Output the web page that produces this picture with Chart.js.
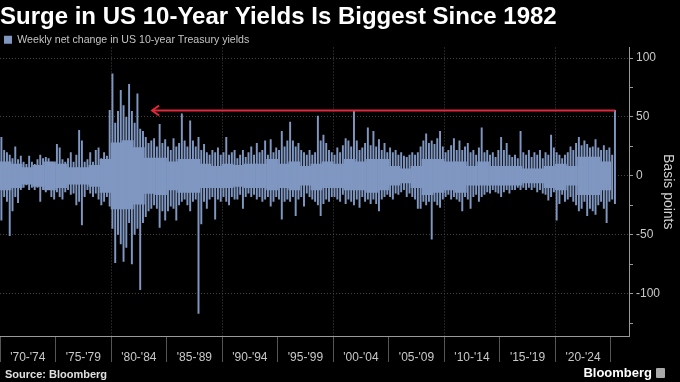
<!DOCTYPE html>
<html>
<head>
<meta charset="utf-8">
<script src="https://cdn.jsdelivr.net/npm/chart.js@4.4.1/dist/chart.umd.min.js"></script>
<style>
  html, body { margin: 0; padding: 0; background: #000; }
  #wrap { position: relative; width: 680px; height: 382px; background: #000; overflow: hidden; }
  #source { position: absolute; left: 5px; top: 368px; color: #e0e0e0; font: bold 11px 'Liberation Sans', sans-serif; }
  #brand { position: absolute; right: 15px; top: 365px; color: #fff; font: bold 13px 'Liberation Sans', sans-serif; }
  #brand span { display: inline-block; width: 9px; height: 10px; margin-left: 4px; background: #aaa; border-radius: 1px; vertical-align: -1px; }
</style>
</head>
<body>
<div id="wrap">
  <canvas id="chart" width="680" height="382"></canvas>
  <div id="source">Source: Bloomberg</div>
  <div id="brand">Bloomberg<span></span></div>
</div>
<script>
// quarterly bins from 1970 Q1 to 2025 Q2: largest rise and largest fall of any week in the quarter (bp)
const firstYear = 1970;
const weeklyHigh = [
  33, 22, 20, 18, 15, 25, 14, 17, 12, 10,
  17, 12, 10, 14, 18, 15, 16, 15, 12, 10,
  27, 24, 14, 12, 15, 20, 12, 18, 39, 30,
  12, 14, 20, 12, 22, 24, 15, 20, 17, 56,
  87, 45, 55, 73, 60, 50, 78, 55, 45, 70,
  40, 38, 33, 28, 30, 32, 25, 44, 28, 31,
  25, 22, 32, 25, 28, 53, 30, 25, 47, 30,
  25, 33, 22, 27, 20, 18, 22, 20, 24, 18,
  20, 33, 18, 20, 22, 15, 18, 22, 16, 20,
  25, 18, 28, 20, 22, 30, 18, 31, 20, 24,
  22, 38, 25, 30, 46, 30, 25, 28, 22, 20,
  18, 22, 18, 20, 51, 30, 35, 28, 22, 20,
  18, 24, 20, 26, 32, 30, 25, 55, 30, 22,
  24, 28, 41, 26, 38, 25, 31, 22, 28, 20,
  24, 20, 22, 18, 20, 17, 16, 18, 20, 18,
  20, 25, 30, 36, 28, 30, 27, 32, 38, 25,
  20, 22, 26, 32, 22, 30, 22, 25, 28, 20,
  22, 18, 24, 41, 20, 22, 18, 20, 16, 22,
  33, 22, 28, 18, 16, 18, 15, 38, 20, 18,
  22, 16, 20, 18, 22, 15, 20, 18, 35, 24,
  20, 18, 15, 18, 20, 25, 22, 28, 33, 26,
  30, 27, 24, 25, 31, 24, 22, 26, 22, 24,
  18, 56
];
const weeklyLow = [
  -38, -18, -22, -51, -30, -18, -23, -12, -10, -8,
  -12, -10, -12, -10, -22, -12, -14, -10, -18, -20,
  -14, -18, -20, -14, -12, -16, -15, -25, -22, -42,
  -18, -12, -15, -18, -15, -20, -25, -22, -18, -26,
  -45, -74, -50, -58, -73, -61, -40, -75, -50, -45,
  -97, -40, -35, -30, -28, -25, -28, -44, -30, -38,
  -30, -26, -28, -38, -25, -22, -20, -25, -30, -22,
  -20, -117, -41, -22, -28, -20, -18, -37, -20, -22,
  -18, -22, -25, -18, -20, -20, -16, -28, -18, -15,
  -18, -16, -20, -18, -22, -20, -18, -26, -22, -18,
  -20, -37, -22, -20, -22, -18, -34, -20, -18, -26,
  -15, -18, -20, -22, -25, -34, -24, -20, -22, -18,
  -18, -20, -22, -16, -24, -20, -22, -25, -20, -27,
  -18, -22, -20, -24, -20, -24, -30, -20, -18, -16,
  -18, -20, -15, -16, -14, -12, -18, -15, -18, -20,
  -28, -28, -22, -25, -22, -54, -22, -25, -27, -20,
  -18, -16, -20, -18, -20, -22, -30, -18, -20, -28,
  -18, -16, -22, -18, -16, -14, -15, -12, -14, -15,
  -18, -14, -12, -15, -12, -12, -10, -12, -10, -12,
  -10, -12, -10, -14, -12, -15, -16, -21, -18, -14,
  -38, -24, -16, -22, -20, -18, -22, -25, -30, -28,
  -22, -34, -28, -30, -33, -25, -22, -28, -40, -22,
  -20, -24
];
// yearly bins 1970-2024: the dense middle of the band, where most weeks fall (bp)
const typicalHigh = [
  12, 10, 7, 9, 12, 10, 7, 7, 9, 14,
  28, 30, 24, 15, 15, 12, 14, 14, 10, 8,
  10, 9, 10, 10, 14, 10, 12, 8, 10, 12,
  10, 14, 12, 14, 14, 8, 6, 8, 14, 14,
  12, 12, 8, 12, 8, 8, 8, 6, 6, 8,
  10, 8, 16, 16, 12
];
const typicalLow = [
  -12, -10, -7, -9, -12, -10, -7, -7, -9, -14,
  -28, -28, -24, -15, -16, -12, -14, -14, -10, -10,
  -10, -9, -10, -10, -12, -10, -12, -8, -12, -10,
  -10, -12, -12, -14, -12, -8, -6, -10, -16, -14,
  -12, -14, -8, -8, -8, -8, -8, -6, -6, -10,
  -12, -8, -16, -16, -12
];
const xTickYears = [1970, 1975, 1980, 1985, 1990, 1995, 2000, 2005, 2010, 2015, 2020, 2025];
const xLabels = ["'70-'74", "'75-'79", "'80-'84", "'85-'89", "'90-'94", "'95-'99", "'00-'04", "'05-'09", "'10-'14", "'15-'19", "'20-'24"];
const yTickValues = [-125, -100, -75, -50, -25, 0, 25, 50, 75, 100];
const arrowSinceYear = 1983.7;

const quarterYears = weeklyHigh.map((_, i) => firstYear + i / 4 + 0.125);
const yearMids = typicalHigh.map((_, i) => firstYear + i + 0.5);
const xMin = 1970, xMax = 2026.64;
const barColor = '#7f97c1';
const font = "'Liberation Sans', sans-serif";

const arrowPlugin = {
  id: 'sinceArrow',
  afterDatasetsDraw(chart) {
    const { ctx, scales: { x, y } } = chart;
    const last = weeklyHigh.length - 1;
    const py = Math.round(y.getPixelForValue(weeklyHigh[last])) + 0.5;
    const x1 = x.getPixelForValue(quarterYears[last]);
    const x2 = x.getPixelForValue(arrowSinceYear);
    ctx.save();
    ctx.strokeStyle = '#e2283b';
    ctx.lineWidth = 2;
    ctx.beginPath();
    ctx.moveTo(x1, py);
    ctx.lineTo(x2, py);
    ctx.stroke();
    ctx.beginPath();
    ctx.moveTo(x2 + 7, py - 5);
    ctx.lineTo(x2, py);
    ctx.lineTo(x2 + 7, py + 5);
    ctx.stroke();
    ctx.restore();
  }
};

const ctx = document.getElementById('chart').getContext('2d');
new Chart(ctx, {
  type: 'bar',
  data: {
    datasets: [{
      label: 'Weekly net change in US 10-year Treasury yields',
      data: quarterYears.map((yr, i) => ({ x: yr, y: [weeklyLow[i], weeklyHigh[i]] })),
      backgroundColor: barColor,
      borderWidth: 0,
      grouped: false,
      barPercentage: 0.7,
      categoryPercentage: 1
    }, {
      label: 'typical range',
      xAxisID: 'xCore',
      data: yearMids.map((yr, i) => ({ x: yr, y: [typicalLow[i], typicalHigh[i]] })),
      backgroundColor: barColor,
      borderWidth: 0,
      grouped: false,
      barPercentage: 1,
      categoryPercentage: 1
    }]
  },
  options: {
    responsive: false,
    animation: false,
    layout: { padding: 0 },
    plugins: {
      title: {
        display: true,
        text: 'Surge in US 10-Year Yields Is Biggest Since 1982',
        align: 'start',
        color: '#ffffff',
        font: { family: font, size: 24, weight: 'bold', lineHeight: 1 },
        padding: { top: 5.5, bottom: 1 }
      },
      legend: {
        display: true,
        align: 'start',
        maxHeight: 17,
        labels: {
          boxWidth: 8, boxHeight: 8, padding: 4,
          color: '#c4c4c4',
          font: { family: font, size: 10.6 },
          filter: item => item.datasetIndex === 0
        }
      },
      tooltip: { enabled: false }
    },
    scales: {
      x: {
        type: 'linear',
        min: xMin,
        max: xMax,
        offset: false,
        afterBuildTicks: s => { s.ticks = xTickYears.map(v => ({ value: v })); },
        afterFit: s => { s.height = 46; s.paddingLeft = 0; s.paddingRight = 0; },
        grid: {
          offset: false,
          color: c => (c.tick && c.tick.value % 10 === 0 && c.tick.value > 1970) ? '#444' : 'rgba(0,0,0,0)',
          tickColor: '#555',
          tickLength: 26
        },
        border: { color: '#999', dash: [1, 2] },
        ticks: {
          autoSkip: false, maxRotation: 0,
          labelOffset: 27.8, padding: -12,
          color: '#c8c8c8',
          font: { family: font, size: 12 },
          callback: (v, i) => xLabels[i] || ''
        }
      },
      xCore: {
        type: 'linear',
        display: false,
        min: xMin,
        max: xMax,
        offset: false
      },
      y: {
        position: 'right',
        min: -136,
        max: 109,
        afterBuildTicks: s => { s.ticks = yTickValues.map(v => ({ value: v })); },
        afterFit: s => { s.width = 51; },
        grid: {
          color: c => (c.tick && c.tick.value % 50 === 0) ? '#444' : 'rgba(0,0,0,0)',
          tickColor: '#999',
          tickLength: 4
        },
        border: { color: '#999', dash: [1, 2] },
        ticks: {
          padding: 3,
          color: '#c8c8c8',
          font: { family: font, size: 12 },
          callback: v => (v % 50 === 0 ? v : '')
        },
        title: {
          display: true,
          text: 'Basis points',
          color: '#d0d0d0',
          font: { family: font, size: 14 },
          padding: 4
        }
      }
    }
  },
  plugins: [arrowPlugin]
});
</script>
</body>
</html>
